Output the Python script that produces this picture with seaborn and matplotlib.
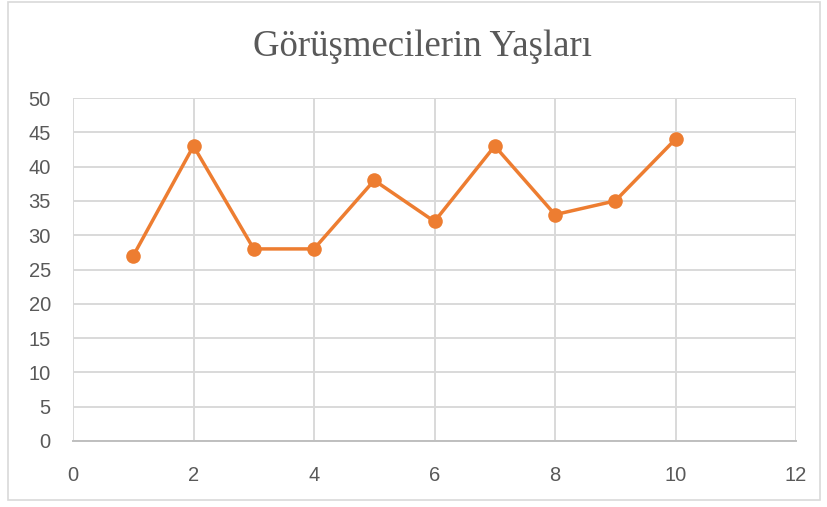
import matplotlib
matplotlib.use("Agg")
import matplotlib.pyplot as plt
import seaborn as sns
import pandas as pd
from matplotlib.patches import Rectangle

x_values = [1, 2, 3, 4, 5, 6, 7, 8, 9, 10]
ages = [27, 43, 28, 28, 38, 32, 43, 33, 35, 44]
x_ticks = [0, 2, 4, 6, 8, 10, 12]
y_ticks = [0, 5, 10, 15, 20, 25, 30, 35, 40, 45, 50]
title = "Görüşmecilerin Yaşları"

df = pd.DataFrame({"x": x_values, "y": ages})

sns.set_theme(style="white")
plt.rcParams['font.family'] = ['Liberation Sans', 'DejaVu Sans']

fig = plt.figure(figsize=(8.27, 5.07), dpi=100)
ax = fig.add_axes([73/827, 1-441/507, (796-73)/827, (441-98)/507])

sns.lineplot(data=df, x="x", y="y", ax=ax, color="#ED7D31", linewidth=2.5,
             marker="o", markersize=10.5, markeredgewidth=0, zorder=3)

ax.set_xlim(0, 12)
ax.set_ylim(0, 50)
ax.set_xticks(x_ticks)
ax.set_yticks(y_ticks)
ax.grid(True, color="#D9D9D9", linewidth=1.4)
ax.set_axisbelow(True)
for side in ["left", "right", "top"]:
    ax.spines[side].set_visible(False)
ax.spines["bottom"].set_color("#BFBFBF")
ax.spines["bottom"].set_linewidth(1.4)
ax.tick_params(axis="both", length=0, labelsize=14.5, colors="#595959")
ax.tick_params(axis="y", pad=16)
ax.tick_params(axis="x", pad=18)
ax.set_xlabel("")
ax.set_ylabel("")

fig.text(423/827, 1-47/507, title, ha="center", va="center",
         fontsize=26.5, color="#595959", family=["Liberation Serif", "DejaVu Serif"])

fig.patches.append(Rectangle((8/827, 1-500/507), (820-8)/827, (500-2)/507,
                             transform=fig.transFigure, fill=False,
                             edgecolor="#D9D9D9", linewidth=1.2))

fig.savefig("out.png", dpi=100)
